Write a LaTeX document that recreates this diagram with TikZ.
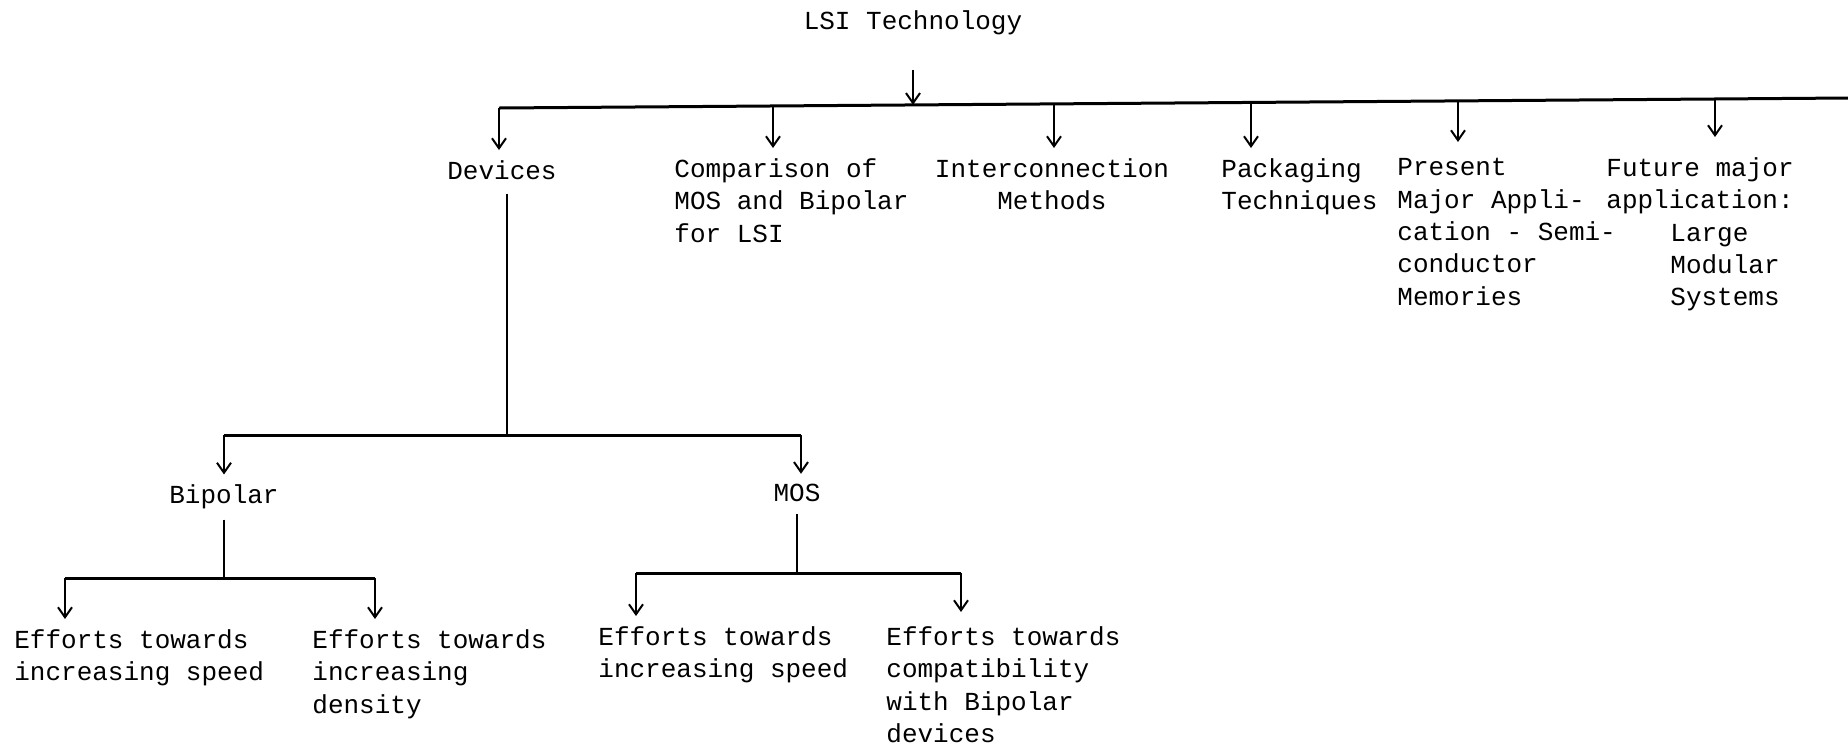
\documentclass[tikz,border=0pt]{standalone}
\usepackage{fontspec}
\setmonofont{Liberation Mono}
\usetikzlibrary{arrows.meta}

\tikzset{
  txt/.style={anchor=north west, align=left},
  link/.style={line width=1pt},
  bar/.style={line width=1.5pt},
  drop/.style={->, line width=1pt, shorten >=5pt},
}

\begin{document}
\begin{tikzpicture}[x=0.5pt, y=-0.5pt, every node/.style={font=\ttfamily\fontsize{13}{16.2}\selectfont, inner sep=0pt}, >={Straight Barb[length=5pt,width=7pt]}]
	\useasboundingbox (0,0) rectangle (1848,746);
	% top level
	\node (lsi) at (913,23) {LSI Technology};
	\node[anchor=north] (dev) at (502,160) {Devices};
	\node[txt] (cmp) at (674,158) {Comparison of\\MOS and Bipolar\\for LSI};
	\node[anchor=north, align=center] (icn) at (1052,158) {Interconnection\\Methods};
	\node[txt] (pkg) at (1221,158) {Packaging\\Techniques};
	\node[txt] (pres) at (1397,158) {Present\\Major Appli-\\cation - Semi-\\conductor\\Memories};
	\node[txt] (fut) at (1606,157) {Future major\\application:\\\hspace*{32pt}Large\\\hspace*{32pt}Modular\\\hspace*{32pt}Systems};
	\draw[bar] (499,108) coordinate (bl) -- (1848,98) coordinate (br);
	\draw[drop, shorten <=17pt, shorten >=0pt] (lsi.south) -- (lsi.south |- 0,104.8);
	\coordinate (t1) at (499,108);
	\coordinate (t2) at (773,106);
	\coordinate (t3) at (1054,103.9);
	\coordinate (t4) at (1251,102.4);
	\coordinate (t5) at (1458,100.9);
	\coordinate (t6) at (1715,99);
	\draw[drop] (t1) -- (t1 |- dev.north);
	\draw[drop] (t2) -- (t2 |- cmp.north);
	\draw[drop] (t3) -- (t3 |- icn.north);
	\draw[drop] (t4) -- (t4 |- pkg.north);
	\draw[drop, shorten >=8pt] (t5) -- (t5 |- pres.north);
	\draw[drop, shorten >=10pt] (t6) -- (t6 |- fut.north);
	% devices
	\node (bip) at (224,497) {Bipolar};
	\node (mos) at (797,493) {MOS};
	\coordinate (j1) at (507,435);
	\coordinate (j1a) at (224,435);
	\coordinate (j1b) at (801,435);
	\draw[link, shorten <=7pt] (dev.south -| j1) -- (j1);
	\draw[bar] (j1a) -- (j1b);
	\draw[drop] (j1a) -- (j1a |- bip.north);
	\draw[drop] (j1b) -- (j1b |- mos.north);
	% bipolar
	\node[txt] (bsp) at (14,629) {Efforts towards\\increasing speed};
	\node[txt] (bden) at (312,629) {Efforts towards\\increasing\\density};
	\coordinate (j2) at (224,578);
	\coordinate (j2a) at (65,578);
	\coordinate (j2b) at (375,578);
	\draw[link, shorten <=5pt] (bip.south -| j2) -- (j2);
	\draw[bar] (j2a) -- (j2b);
	\draw[drop] (j2a) -- (j2a |- bsp.north);
	\draw[drop] (j2b) -- (j2b |- bden.north);
	% mos
	\node[txt] (msp) at (598,626) {Efforts towards\\increasing speed};
	\node[txt] (mcmp) at (886,626) {Efforts towards\\compatibility\\with Bipolar\\devices};
	\coordinate (j3) at (797,573);
	\coordinate (j3a) at (636,573);
	\coordinate (j3b) at (961,573);
	\draw[link, shorten <=6pt] (mos.south -| j3) -- (j3);
	\draw[bar] (j3a) -- (j3b);
	\draw[drop] (j3a) -- (j3a |- msp.north);
	\draw[drop, shorten >=7pt] (j3b) -- (j3b |- mcmp.north);
\end{tikzpicture}
\end{document}
